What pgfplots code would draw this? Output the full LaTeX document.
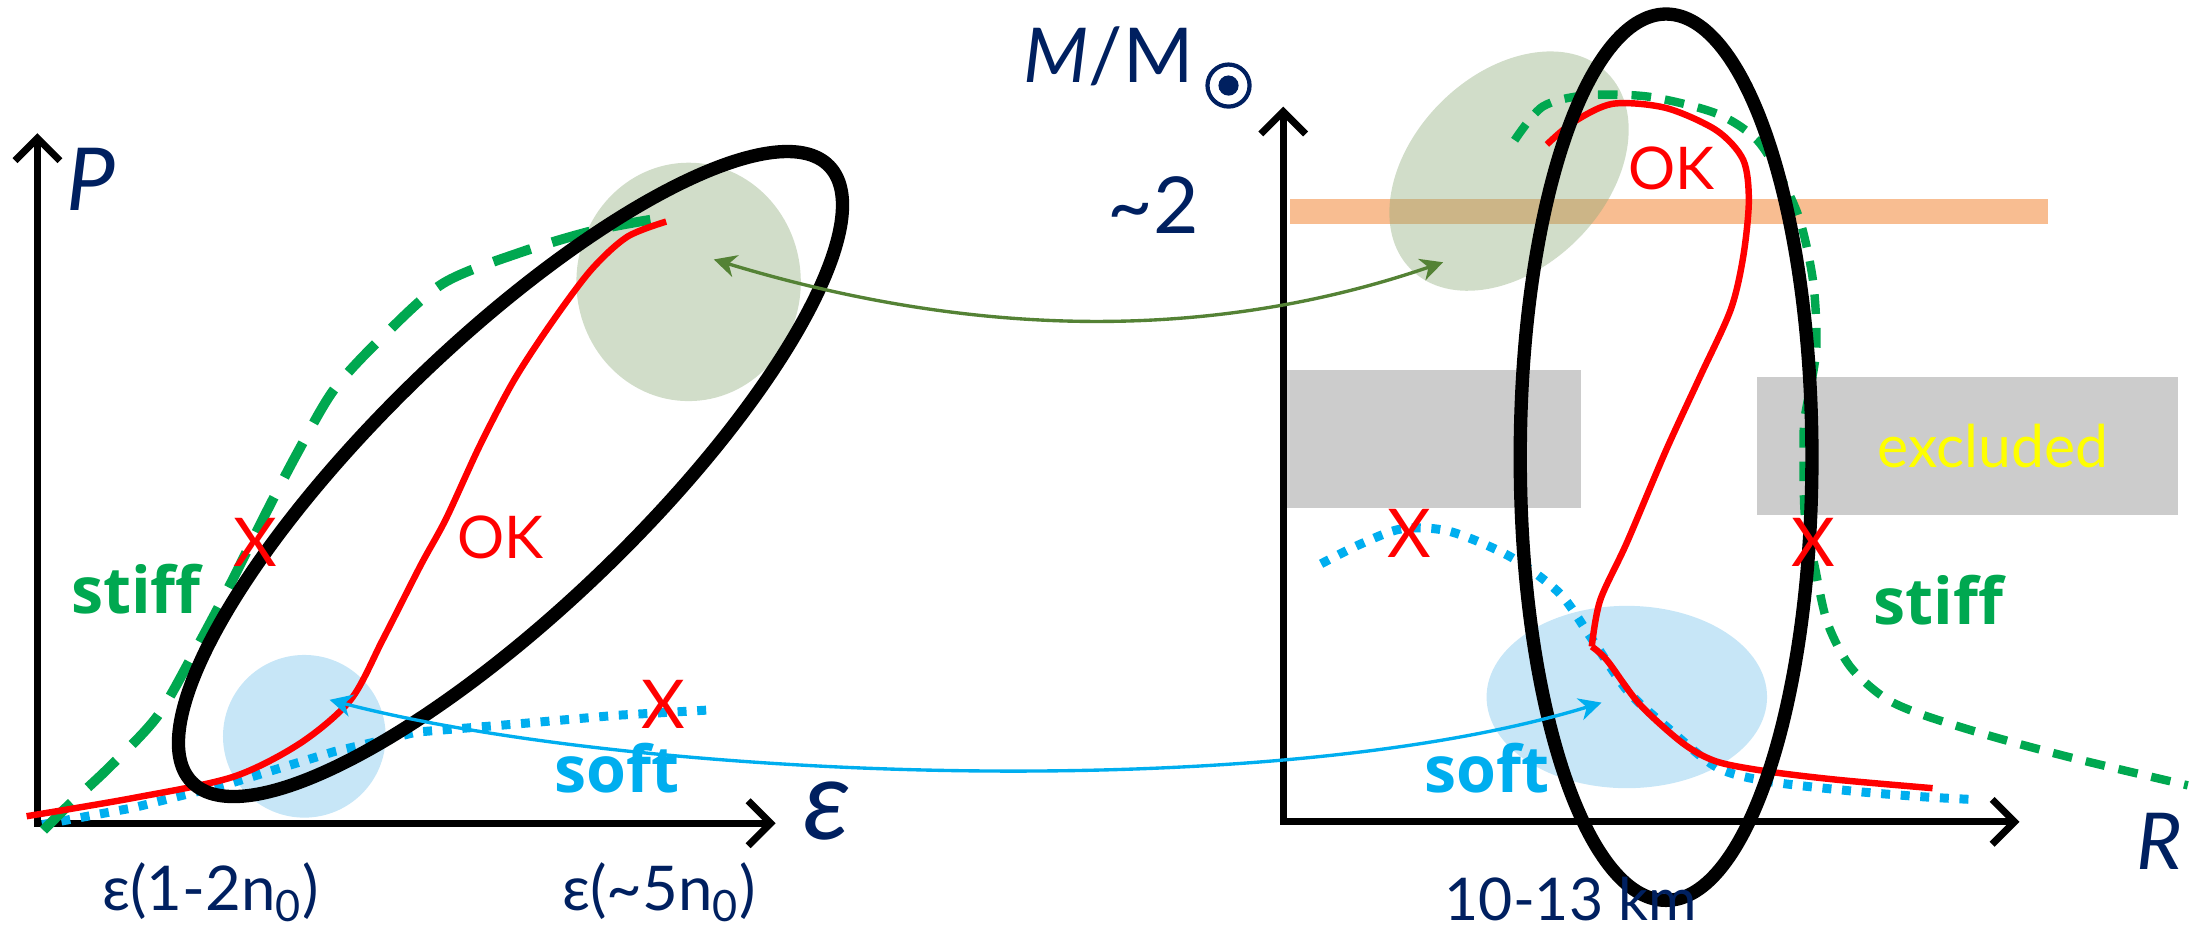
\documentclass[border=0pt]{standalone}
\usepackage{fontspec}
\setmainfont{Lato}
\newfontfamily\osans{Open Sans}
\usepackage{pgfplots}
\pgfplotsset{compat=1.18}
\usetikzlibrary{arrows.meta}
\definecolor{navy}{RGB}{0,32,96}
\definecolor{stiffgreen}{RGB}{0,168,80}
\definecolor{softblue}{RGB}{0,174,239}
\definecolor{arrowgreen}{RGB}{84,130,53}
\definecolor{bluefill}{RGB}{199,230,247}
\definecolor{greenfill}{RGB}{140,170,120}
\definecolor{bandorange}{RGB}{248,189,145}
\definecolor{exgray}{RGB}{204,204,204}
\definecolor{exyellow}{RGB}{255,255,0}
\newcommand{\fs}[1]{\fontsize{#1}{#1}\selectfont}
\begin{document}
\begin{tikzpicture}
\begin{axis}[hide axis, scale only axis, width=784pt, height=332.5pt,
  xmin=0, xmax=1568, ymin=0, ymax=665, y dir=reverse, clip=false]
% ---------- background shapes ----------
\fill[bluefill] (axis cs:217,525) ellipse [x radius=29pt, y radius=29pt];
\fill[bluefill] (axis cs:1160,497) ellipse [x radius=50pt, y radius=32.5pt];
\fill[bandorange] (axis cs:920,142) rectangle (axis cs:1460,160);
\fill[greenfill, opacity=0.4] (axis cs:491,201) ellipse [x radius=40pt, y radius=42.5pt];
\fill[greenfill, opacity=0.4, rotate around={45:(axis cs:1076,122)}] (axis cs:1076,122) ellipse [x radius=49.5pt, y radius=34.5pt];
\fill[exgray] (axis cs:916,264) rectangle (axis cs:1127,362);
\fill[exgray] (axis cs:1253,269) rectangle (axis cs:1553,367);
% ---------- axes ----------
\addplot[black, line width=2.5pt, -{Straight Barb[length=8pt, width=16pt]}] coordinates {(26.7,587) (26.7,95)};
\addplot[black, line width=2.5pt, -{Straight Barb[length=8pt, width=16pt]}] coordinates {(24,587) (553,587)};
\addplot[black, line width=2.5pt, -{Straight Barb[length=8pt, width=16pt]}] coordinates {(915,587) (915,76)};
\addplot[black, line width=2.5pt, -{Straight Barb[length=8pt, width=16pt]}] coordinates {(913,586) (1440,586)};
% ---------- left panel curves (P vs epsilon) ----------
\addplot[softblue, line width=3.2pt, dash pattern=on 3.2pt off 3.8pt] coordinates {
 (30,588) (95,576) (166,558) (238,536) (297,522) (371,516) (440,510) (510,506)};
\addplot[stiffgreen, line width=3.5pt, dash pattern=on 14pt off 8pt, smooth] coordinates {
 (31,592) (48,575) (78,547) (112,511) (138,466) (162,421) (188,369) (212,323)
 (238,278) (273,240) (316,202) (371,180) (425,164) (474,155)};
\addplot[red, line width=2.3pt, smooth] coordinates {
 (19,582) (95,569) (166,554) (214,530) (250,499) (273,456) (300,403) (318,370)
 (342,318) (366,272) (392,232) (421,193) (447,169) (475,158)};
% ---------- right panel curves (M vs R) ----------
\addplot[softblue, line width=3.2pt, dash pattern=on 3.2pt off 3.8pt, smooth] coordinates {
 (942,402) (970,388) (1000,377) (1034,379) (1077,397) (1112,423) (1134,454)
 (1160,492) (1188,518) (1224,547) (1260,557) (1320,564) (1369,568) (1405,570)};
\addplot[stiffgreen, line width=3pt, dash pattern=on 7pt off 5pt, smooth] coordinates {
 (1080,100) (1100,76) (1131,68) (1176,69) (1224,81) (1253,100) (1272,131)
 (1284,159) (1293,202) (1295,250) (1287,297) (1286,321) (1287,368) (1294,404)
 (1303,444) (1319,475) (1343,497) (1369,509) (1420,525) (1480,541) (1560,560)};
\addplot[red, line width=2.3pt, smooth] coordinates {
 (1103,103) (1122,87) (1150,74) (1188,77) (1224,93) (1243,114) (1247,143)
 (1243,183) (1234,221) (1212,269) (1188,321) (1160,387) (1141,428) (1135,461)};
\addplot[red, line width=2.3pt, smooth] coordinates {
 (1135,461) (1146,471) (1169,502) (1200,530) (1224,543) (1260,550) (1310,556) (1378,562)};
% ---------- black ellipses ----------
\draw[black, line width=4.75pt, rotate around={44:(axis cs:364,338)}] (axis cs:364,338) ellipse [x radius=158pt, y radius=47.5pt];
\draw[black, line width=4.75pt] (axis cs:1188,326) ellipse [x radius=52pt, y radius=158pt];
% ---------- connecting arrows ----------
\draw[arrowgreen, line width=1.2pt, {Stealth[length=8pt, width=8pt, inset=2.5pt]}-{Stealth[length=8pt, width=8pt, inset=2.5pt]}]
 (axis cs:509,185) .. controls (axis cs:690,240) and (axis cs:860,245) .. (axis cs:1029,187);
\draw[softblue, line width=1.2pt, {Stealth[length=8pt, width=8pt, inset=2.5pt]}-{Stealth[length=8pt, width=8pt, inset=2.5pt]}]
 (axis cs:235,499) .. controls (axis cs:450,555) and (axis cs:900,575) .. (axis cs:1142,501);
% ---------- sun symbol ----------
\draw[navy, line width=1.5pt] (axis cs:876,61) circle [radius=7.5pt];
\fill[navy] (axis cs:876,61) circle [radius=3.6pt];
% ---------- texts ----------
\node[navy, font=\fs{31}\itshape] at (axis cs:65,128) {P};
\node[navy, font=\fs{40}\itshape] at (axis cs:590,578) {ε};
\node[navy, font=\fs{22}] at (axis cs:150,636) {ε(1-2n\textsubscript{0})};
\node[navy, font=\fs{22}] at (axis cs:470,636) {ε(\textasciitilde5n\textsubscript{0})};
\node[stiffgreen, font=\fs{23}\osans\bfseries] at (axis cs:97,420) {stiff};
\node[softblue, font=\fs{23}\osans\bfseries] at (axis cs:440,548) {soft};
\node[red, font=\fs{21}] at (axis cs:357,383) {OK};
\node[red, font=\fs{24}] at (axis cs:182,387) {X};
\node[red, font=\fs{24}] at (axis cs:473,502) {X};
\node[navy, font=\fs{27}, anchor=east] at (axis cs:858,40) {\itshape M\upshape/M};
\node[navy, font=\fs{28}, anchor=east] at (axis cs:862,146) {\textasciitilde2};
\node[red, font=\fs{21}] at (axis cs:1192,120) {OK};
\node[red, font=\fs{24}] at (axis cs:1005,380) {X};
\node[red, font=\fs{24}] at (axis cs:1293,387) {X};
\node[stiffgreen, font=\fs{23}\osans\bfseries] at (axis cs:1382,428) {stiff};
\node[softblue, font=\fs{23}\osans\bfseries] at (axis cs:1060,548) {soft};
\node[exyellow, font=\fs{21}] at (axis cs:1421,318) {excluded};
\node[navy, font=\fs{28}\itshape] at (axis cs:1540,600) {R};
\node[navy, font=\fs{21}] at (axis cs:1120,641) {10-13 km};
\end{axis}
\pgfresetboundingbox
\path[use as bounding box] (current axis.south west) rectangle (current axis.north east);
\end{tikzpicture}
\end{document}
